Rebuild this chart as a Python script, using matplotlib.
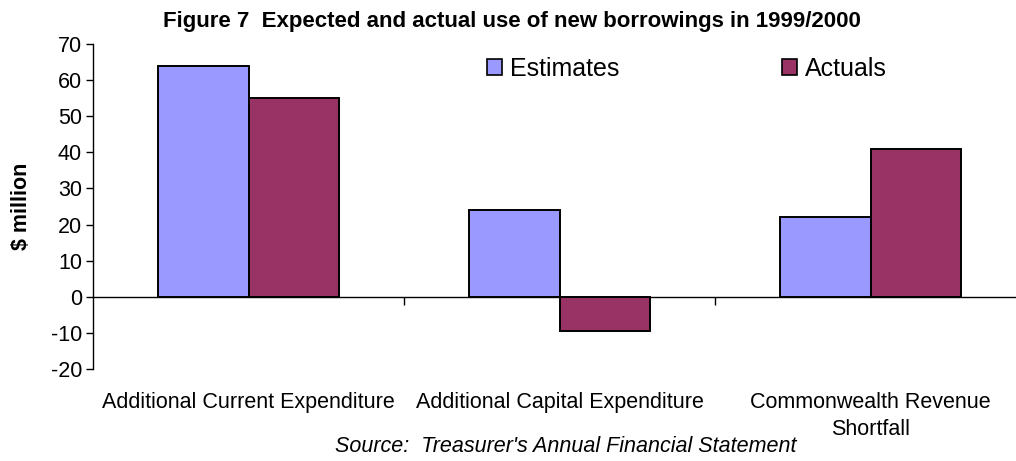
import matplotlib
matplotlib.use("Agg")
import matplotlib.pyplot as plt
import matplotlib.transforms as mtransforms
from matplotlib.patches import Patch

plt.rcParams['font.family'] = ['Liberation Sans', 'DejaVu Sans']
plt.rcParams['axes.unicode_minus'] = False

categories = ["Additional Current Expenditure",
              "Additional Capital Expenditure",
              "Commonwealth Revenue\nShortfall"]
estimates = [64, 24, 22]
actuals = [55, -9.6, 41]
y_ticks = [-20, -10, 0, 10, 20, 30, 40, 50, 60, 70]

W, H = 1016, 461
fig = plt.figure(figsize=(W / 100, H / 100), dpi=100)


def fx(px):
    return px / W


def fy(py):
    return 1 - py / H


# Plot area: the third category runs slightly past the right edge
ax_w = 933
ax = fig.add_axes([fx(93), fy(369), ax_w / W, 325 / H])

est_color = "#9999FF"
act_color = "#993366"
bar_w = 0.29
xs = list(range(len(categories)))

ax.bar([x - bar_w / 2 for x in xs], estimates, width=bar_w,
       color=est_color, edgecolor="black", linewidth=1.4, zorder=3)
ax.bar([x + bar_w / 2 for x in xs], actuals, width=bar_w,
       color=act_color, edgecolor="black", linewidth=1.4, zorder=3)

ax.set_xlim(-0.5, 2.5)
ax.set_ylim(-20, 70)
ax.set_yticks(y_ticks)
ax.tick_params(axis="y", direction="out", length=5, width=1,
               labelsize=15.5, pad=3)

for side in ("top", "right"):
    ax.spines[side].set_visible(False)
ax.spines["bottom"].set_position(("data", 0))
ax.spines["left"].set_linewidth(1)
ax.spines["bottom"].set_linewidth(1)

# Category boundary ticks hang from the zero line
ax.set_xticks([0.5, 1.5])
ax.set_xticklabels([])
ax.tick_params(axis="x", direction="out", length=6, width=1)

# Category names below the plot area
trans = mtransforms.blended_transform_factory(ax.transData, fig.transFigure)
for x, name in zip(xs, categories):
    ax.text(x, fy(392), name, transform=trans, ha="center", va="top",
            fontsize=15.5, linespacing=1.35, clip_on=False)

ax.set_ylabel("$ million", fontsize=15.5, fontweight="bold")
ax.yaxis.set_label_coords((32 - 93) / ax_w, 0.5)

fig.text(fx(512), fy(22), "Figure 7  Expected and actual use of new borrowings in 1999/2000",
         ha="center", va="center", fontsize=16, fontweight="bold")

fig.text(fx(335), fy(452), "Source:  Treasurer's Annual Financial Statement",
         ha="left", va="baseline", fontsize=15.5, style="italic")

handles = [Patch(facecolor=est_color, edgecolor="black", linewidth=1.2, label="Estimates"),
           Patch(facecolor=act_color, edgecolor="black", linewidth=1.2, label="Actuals")]
fig.legend(handles=handles, loc="center left", bbox_to_anchor=(fx(487), fy(68.5)),
           ncol=2, frameon=False, fontsize=18, handlelength=0.6, handleheight=0.6,
           handletextpad=0.32, columnspacing=6.5, borderpad=0, borderaxespad=0)

fig.savefig("out.png", dpi=100)
